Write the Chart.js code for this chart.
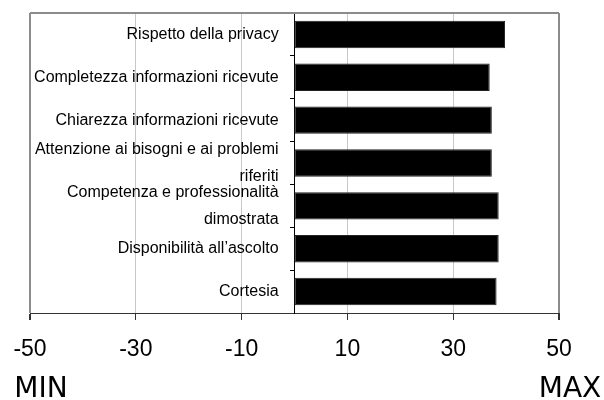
<!DOCTYPE html>
<html>
<head>
<meta charset="utf-8">
<script src="https://cdn.jsdelivr.net/npm/chart.js@4/dist/chart.umd.min.js"></script>
<style>
  html, body { margin: 0; padding: 0; background: #fff; }
  #wrap { width: 604px; height: 400px; }
</style>
</head>
<body>
<div id="wrap"><canvas id="chart"></canvas></div>
<script>
// Data
const categories = [
    'Rispetto della privacy',
    'Completezza informazioni ricevute',
    'Chiarezza informazioni ricevute',
    ['Attenzione ai bisogni e ai problemi', 'riferiti'],
    ['Competenza e professionalità', 'dimostrata'],
    'Disponibilità all\u2019ascolto',
    'Cortesia'
];
const scores = [39.8, 36.9, 37.3, 37.3, 38.6, 38.6, 38.2];
const xTicks = [-50, -30, -10, 10, 30, 50];
const endTicks = [-50, 50];
const endLabels = ['MIN', 'MAX'];

// draws the grey top edge of the plot frame
const frameTop = {
    id: 'frameTop',
    beforeDatasetsDraw(chart) {
        const { ctx, chartArea } = chart;
        ctx.save();
        ctx.strokeStyle = '#8c8c8c';
        ctx.lineWidth = 2;
        ctx.beginPath();
        ctx.moveTo(chartArea.left, chartArea.top);
        ctx.lineTo(chartArea.right, chartArea.top);
        ctx.stroke();
        ctx.restore();
    }
};

// keep the axes from pushing the chart area around
const noPadV = (scale) => { scale.paddingTop = 0; scale.paddingBottom = 0; };
const fixH = (h) => (scale) => { scale.height = h; scale.paddingLeft = 0; scale.paddingRight = 0; };

const ctx = document.getElementById('chart').getContext('2d');
new Chart(ctx, {
    type: 'bar',
    data: {
        labels: categories,
        datasets: [{
            data: scores,
            yAxisID: 'y',
            backgroundColor: '#000',
            borderColor: '#222',
            borderWidth: 1,
            borderSkipped: false,
            categoryPercentage: 1,
            barPercentage: 0.64
        }]
    },
    options: {
        indexAxis: 'y',
        responsive: true,
        maintainAspectRatio: false,
        animation: false,
        devicePixelRatio: 1,
        layout: { padding: { left: 30, right: 45, top: 13, bottom: 0 } },
        plugins: {
            legend: { display: false },
            tooltip: { enabled: false }
        },
        scales: {
            x: {
                type: 'linear',
                position: 'bottom',
                weight: 0,
                min: -50,
                max: 50,
                afterBuildTicks: (scale) => { scale.ticks = xTicks.map(v => ({ value: v })); },
                afterFit: fixH(54),
                grid: {
                    color: (c) => (c.tick && Math.abs(c.tick.value) === 50) ? '#8c8c8c' : '#c8c8c8',
                    lineWidth: (c) => (c.tick && Math.abs(c.tick.value) === 50) ? 2 : 1,
                    tickColor: '#333',
                    tickLength: 7
                },
                border: { display: true, color: '#333', width: 1 },
                ticks: {
                    color: '#000',
                    padding: 16,
                    maxRotation: 0,
                    font: { family: 'Liberation Sans, Arial, sans-serif', size: 23 }
                }
            },
            xm: {
                type: 'linear',
                position: 'bottom',
                weight: 1,
                min: -50,
                max: 50,
                afterBuildTicks: (scale) => { scale.ticks = endTicks.map(v => ({ value: v })); },
                afterFit: fixH(33),
                grid: { display: false, drawTicks: false },
                border: { display: false },
                ticks: {
                    color: '#000',
                    padding: 6,
                    labelOffset: 11,
                    maxRotation: 0,
                    callback: (v, i) => endLabels[i],
                    font: { family: 'DejaVu Sans, sans-serif', size: 28 }
                }
            },
            // labels, sitting just left of the zero line
            y: {
                type: 'category',
                position: { x: -3 },
                afterFit: noPadV,
                grid: { display: false },
                border: { display: false },
                ticks: {
                    color: '#000',
                    autoSkip: false,
                    font: { family: 'Liberation Sans, Arial, sans-serif', size: 16, lineHeight: 1.7 }
                }
            },
            // zero line with its small tick marks
            y2: {
                type: 'category',
                position: { x: 0 },
                offset: true,
                afterFit: noPadV,
                grid: {
                    offset: true,
                    drawOnChartArea: false,
                    drawTicks: true,
                    tickLength: 4,
                    tickColor: '#000'
                },
                border: { display: true, color: '#000', width: 1 },
                ticks: { display: false, autoSkip: false }
            }
        }
    },
    plugins: [frameTop]
});
</script>
</body>
</html>
